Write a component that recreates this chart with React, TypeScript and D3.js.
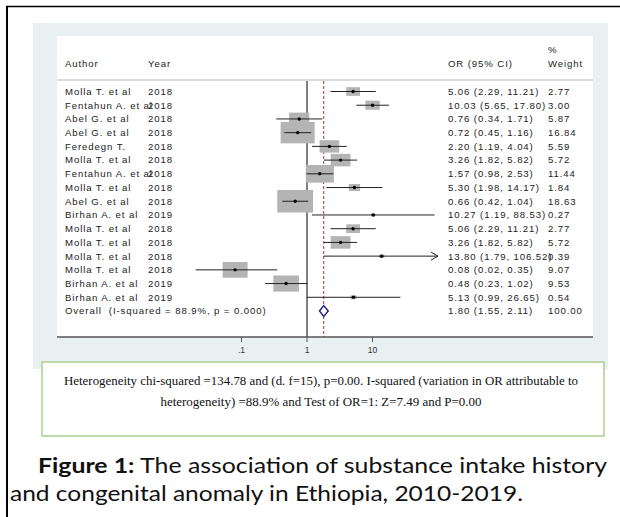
import * as d3 from "d3";

// study rows
const authors = [
  "Molla T. et al", "Fentahun A. et al", "Abel G. et al", "Abel G. et al",
  "Feredegn T.", "Molla T. et al", "Fentahun A. et al", "Molla T. et al",
  "Abel G. et al", "Birhan A. et al", "Molla T. et al", "Molla T. et al",
  "Molla T. et al", "Molla T. et al", "Birhan A. et al", "Birhan A. et al",
];
const years = [
  "2018", "2018", "2018", "2018", "2018", "2018", "2018", "2018",
  "2018", "2019", "2018", "2018", "2018", "2018", "2019", "2019",
];
const ors = [5.06, 10.03, 0.76, 0.72, 2.2, 3.26, 1.57, 5.3, 0.66, 10.27, 5.06, 3.26, 13.8, 0.08, 0.48, 5.13];
const lows = [2.29, 5.65, 0.34, 0.45, 1.19, 1.82, 0.98, 1.98, 0.42, 1.19, 2.29, 1.82, 1.79, 0.02, 0.23, 0.99];
const highs = [11.21, 17.8, 1.71, 1.16, 4.04, 5.82, 2.53, 14.17, 1.04, 88.53, 11.21, 5.82, 106.52, 0.35, 1.02, 26.65];
const weights = [2.77, 3.0, 5.87, 16.84, 5.59, 5.72, 11.44, 1.84, 18.63, 0.27, 2.77, 5.72, 0.39, 9.07, 9.53, 0.54];

const overall = { or: 1.8, lo: 1.55, hi: 2.11, weight: 100 };
const overallLabel = "Overall  (I-squared = 88.9%, p = 0.000)";

const tickValues = [0.1, 1, 10];
const tickLabels = [".1", "1", "10"];

const hetLines = [
  "Heterogeneity chi-squared =134.78 and (d. f=15), p=0.00. I-squared (variation in OR attributable to",
  "heterogeneity) =88.9% and Test of OR=1: Z=7.49 and P=0.00",
];

const W = 620;
const H = 517;
const PLOT = { left: 57, right: 593, top: 36, axis: 337 };
const SANS = "'Liberation Sans', Arial, sans-serif";
const fmt = d3.format(".2f");

export default function App() {
  const x = d3.scaleLog().domain([0.01, 100]).range([176, 438]);
  const y = d3.scaleLinear().domain([0, 16]).range([91.5, 311]);
  const boxW = d3.scaleSqrt().domain([0, 18.63]).range([0, 35.8]);
  const clipMax = 100;

  const rowText = (i: number, label: string, year: string, ci: string, w: string) => (
    <g key={"t" + i} fontFamily={SANS} fontSize={9.6} fill="#222" letterSpacing={0.9}>
      <text x={65} y={y(i) + 3.4} style={{ whiteSpace: "pre" }}>{label}</text>
      {year && <text x={148} y={y(i) + 3.4}>{year}</text>}
      <text x={448} y={y(i) + 3.4}>{ci}</text>
      <text x={548} y={y(i) + 3.4}>{w}</text>
    </g>
  );

  return (
    <svg width={W} height={H} style={{ position: "absolute", left: 0, top: 0, background: "#fff" }}>
      {/* outer frame */}
      <line x1={6} x2={W} y1={6.5} y2={6.5} stroke="#000" strokeWidth={1.3} />
      <line x1={7} x2={7} y1={6} y2={H} stroke="#000" strokeWidth={2} />

      {/* panel */}
      <rect x={33} y={23} width={575} height={346} fill="#e8f0f2" />
      <rect x={PLOT.left} y={PLOT.top} width={PLOT.right - PLOT.left} height={PLOT.axis - PLOT.top} fill="#fff" />

      {/* header */}
      <g fontFamily={SANS} fontSize={9.6} fill="#222" letterSpacing={0.9}>
        <text x={65} y={67}>Author</text>
        <text x={148} y={67}>Year</text>
        <text x={448} y={67}>OR (95% CI)</text>
        <text x={548} y={53}>%</text>
        <text x={548} y={67}>Weight</text>
      </g>
      <line x1={PLOT.left} x2={PLOT.right} y1={80} y2={80} stroke="#dcdcdc" strokeWidth={2} />

      {/* reference lines */}
      <line x1={x(1)} x2={x(1)} y1={81} y2={PLOT.axis} stroke="#000" strokeWidth={1} />
      <line x1={x(overall.or)} x2={x(overall.or)} y1={81} y2={PLOT.axis} stroke="#a83232" strokeWidth={1} strokeDasharray="3,2" />

      {/* studies */}
      {ors.map((o, i) => {
        const bw = boxW(weights[i]);
        const bh = bw * 0.63;
        const hiX = x(Math.min(highs[i], clipMax));
        return (
          <g key={"s" + i}>
            <rect x={x(o) - bw / 2} y={y(i) - bh / 2} width={bw} height={bh} fill="#b4b4b4" />
            <line x1={x(lows[i])} x2={hiX} y1={y(i)} y2={y(i)} stroke="#222" strokeWidth={1} />
            {highs[i] > clipMax && (
              <path d={`M${hiX - 7},${y(i) - 4}L${hiX},${y(i)}L${hiX - 7},${y(i) + 4}`} fill="none" stroke="#222" strokeWidth={1} />
            )}
            <circle cx={x(o)} cy={y(i)} r={1.7} fill="#000" />
          </g>
        );
      })}
      {authors.map((a, i) => rowText(i, a, years[i], `${fmt(ors[i])} (${fmt(lows[i])}, ${fmt(highs[i])})`, fmt(weights[i])))}

      {/* overall diamond */}
      <path
        d={`M${x(overall.lo)},${y(16)}L${x(overall.or)},${y(16) - 5.5}L${x(overall.hi)},${y(16)}L${x(overall.or)},${y(16) + 5.5}Z`}
        fill="#fff" stroke="#1c1c80" strokeWidth={1.4}
      />
      {rowText(16, overallLabel, "", `${fmt(overall.or)} (${fmt(overall.lo)}, ${fmt(overall.hi)})`, fmt(overall.weight))}

      {/* axis */}
      <line x1={PLOT.left} x2={PLOT.right} y1={PLOT.axis} y2={PLOT.axis} stroke="#555" strokeWidth={1.5} />
      {tickValues.map((t, i) => (
        <g key={"k" + i}>
          <line x1={x(t)} x2={x(t)} y1={PLOT.axis} y2={PLOT.axis + 5} stroke="#555" />
          <text x={x(t)} y={353} textAnchor="middle" fontFamily={SANS} fontSize={8.5} fill="#333">{tickLabels[i]}</text>
        </g>
      ))}

      {/* heterogeneity box */}
      <rect x={42} y={362} width={562} height={74} fill="#fff" stroke="#a9d18e" strokeWidth={1.5} />
      <text x={321} y={385} textAnchor="middle" fontFamily="'Liberation Serif', 'Times New Roman', serif" fontSize={13} fill="#111" textLength={514} lengthAdjust="spacingAndGlyphs">{hetLines[0]}</text>
      <text x={321} y={406} textAnchor="middle" fontFamily="'Liberation Serif', 'Times New Roman', serif" fontSize={13} fill="#111" textLength={321} lengthAdjust="spacingAndGlyphs">{hetLines[1]}</text>

      {/* caption */}
      <text x={38} y={473} fontFamily="Lato, 'Open Sans', sans-serif" fontSize={21} fill="#111" textLength={569} lengthAdjust="spacingAndGlyphs">
        <tspan fontWeight="bold">Figure 1:</tspan> The association of substance intake history
      </text>
      <text x={10} y={501} fontFamily="Lato, 'Open Sans', sans-serif" fontSize={21} fill="#111" textLength={513} lengthAdjust="spacingAndGlyphs">
        and congenital anomaly in Ethiopia, 2010-2019.
      </text>
    </svg>
  );
}
